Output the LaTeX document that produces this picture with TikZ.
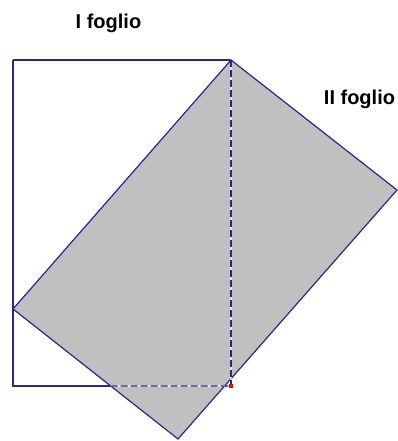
\documentclass[tikz,border=0pt]{standalone}
\usepackage{fontspec}
\setmainfont{Liberation Sans}
\usetikzlibrary{calc}
\definecolor{edgeblue}{RGB}{40,40,140}
\definecolor{sheetgray}{RGB}{192,192,192}

\begin{document}
\begin{tikzpicture}[x=1pt, y=-1pt,
    edge/.style={edgeblue, line width=1.2pt},
    fold/.style={edgeblue, line width=1.3pt, dash pattern=on 7pt off 3pt},
    label/.style={font=\bfseries\fontsize{20}{21}\selectfont, anchor=base}]
  \useasboundingbox (0,0) rectangle (398,441);
  % first sheet
  \coordinate (tl) at (13,60);
  \coordinate (tr) at (231,60);
  \coordinate (br) at (231,386);
  \coordinate (bl) at (13,386);
  % second sheet, turned
  \coordinate (top) at (231,60);
  \coordinate (right) at (397,190);
  \coordinate (bottom) at (178,439);
  \coordinate (left) at (13,309);
  \draw[edge] (tl) -- (tr) (tl) -- (bl) -- (br);
  \filldraw[edge, fill=sheetgray] (top) -- (right) -- (bottom) -- (left) -- cycle;
  \coordinate (cut) at ($(left)!{77/130}!(bottom)$);
  \draw[white, line width=1.3pt] (tr) -- (br) -- (cut);
  \draw[fold] (tr) -- (br);
  \draw[fold] (cut) -- (br);
  \fill[red] ($(br)+(-2,-2)$) rectangle ($(br)+(2,2)$);
  \node[label] (first) at (108.5,29) {I foglio};
  \node[label] (second) at (359.5,104) {II foglio};
\end{tikzpicture}
\end{document}
